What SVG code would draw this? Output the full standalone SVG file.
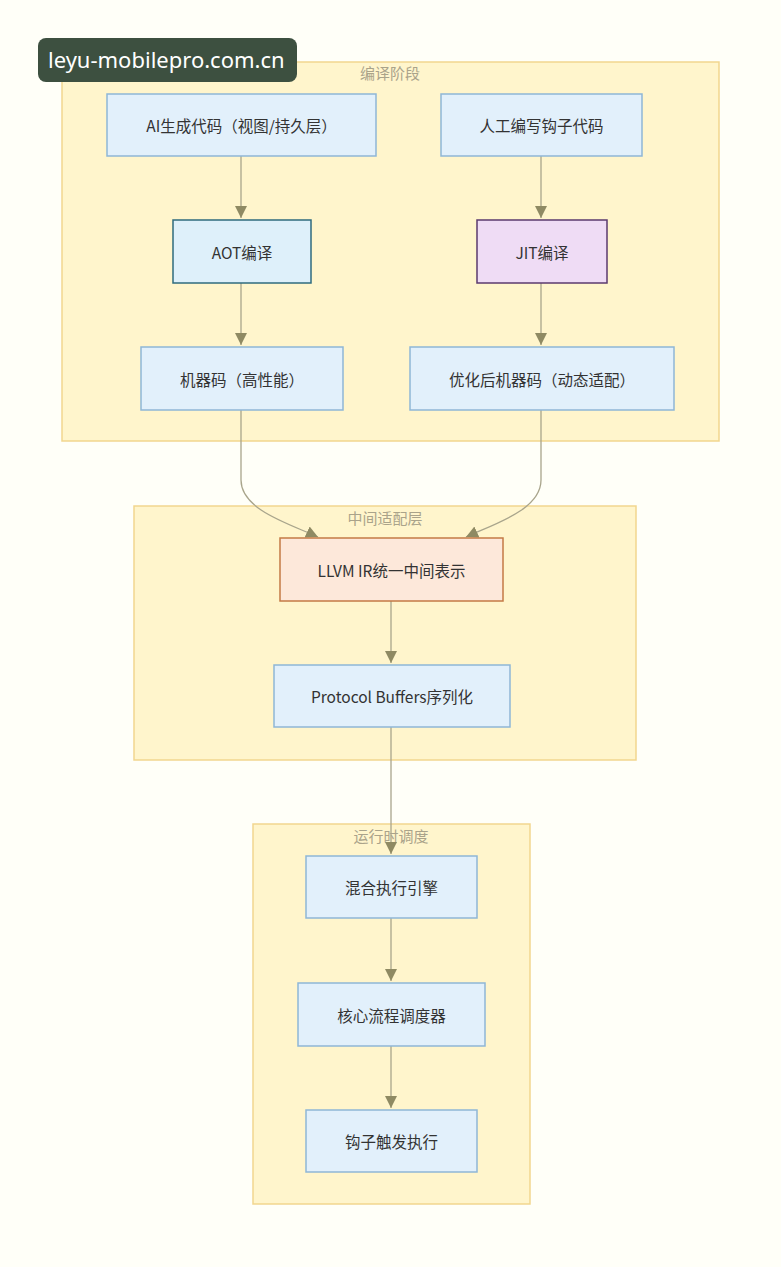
<svg xmlns="http://www.w3.org/2000/svg" width="781" height="1267" viewBox="0 0 781 1267">
<defs>
<marker id="arr" viewBox="0 0 10 10" refX="10" refY="5" markerWidth="12" markerHeight="12" markerUnits="userSpaceOnUse" orient="auto">
<path d="M0,0 L10,5 L0,10 z" fill="#8f8a63"/>
</marker>
</defs>
<style>
.bg{fill:#fffff8}
.cluster{fill:#fff5cc;stroke:#f2d68e;stroke-width:1.5}
.ctitle{font-family:"Noto Sans CJK SC","Noto Sans",sans-serif;font-size:15px;fill:#aaa38a;text-anchor:middle}
.node{fill:#e2f0fb;stroke:#8fb6d6;stroke-width:1.5}
.aot{fill:#def0fa;stroke:#2f6b7e;stroke-width:1.5}
.jit{fill:#efdcf5;stroke:#5b3a6e;stroke-width:1.5}
.llvm{fill:#fde8da;stroke:#c47a45;stroke-width:1.5}
.label{font-family:"Noto Sans CJK SC","Noto Sans",sans-serif;font-size:15.5px;fill:#333;text-anchor:middle;dominant-baseline:central}
.edge{fill:none;stroke:#a9a58c;stroke-width:1.3}
.wm{fill:#3d5040}
.wmt{font-family:"Noto Sans","DejaVu Sans",sans-serif;font-size:22px;fill:#ffffff}
</style>
<rect class="bg" x="0" y="0" width="781" height="1267"/>
<g id="cluster-compile">
<rect class="cluster" x="62" y="62" width="657" height="379"/>
<text class="ctitle" x="390" y="79">编译阶段</text>
</g>
<g id="cluster-middle">
<rect class="cluster" x="134" y="506" width="502" height="254"/>
<text class="ctitle" x="385" y="524">中间适配层</text>
</g>
<g id="cluster-runtime">
<rect class="cluster" x="253" y="824" width="277" height="380"/>
<text class="ctitle" x="391" y="842">运行时调度</text>
</g>
<g id="edges">
<path class="edge" d="M241,156 V218" marker-end="url(#arr)"/>
<path class="edge" d="M241,283 V345" marker-end="url(#arr)"/>
<path class="edge" d="M541,156 V218" marker-end="url(#arr)"/>
<path class="edge" d="M541,283 V345" marker-end="url(#arr)"/>
<path class="edge" d="M241,410 V480 C241,510 290,524 318,537" marker-end="url(#arr)"/>
<path class="edge" d="M541,410 V480 C541,510 494,524 466,537" marker-end="url(#arr)"/>
<path class="edge" d="M391,601 V663" marker-end="url(#arr)"/>
<path class="edge" d="M391,727 V854" marker-end="url(#arr)"/>
<path class="edge" d="M391,918 V981" marker-end="url(#arr)"/>
<path class="edge" d="M391,1046 V1108" marker-end="url(#arr)"/>
</g>
<g id="node-ai">
<rect class="node" x="107" y="94" width="269" height="62"/>
<text class="label" x="241.5" y="125">AI生成代码（视图/持久层）</text>
</g>
<g id="node-manual">
<rect class="node" x="441" y="94" width="201" height="62"/>
<text class="label" x="541.5" y="125">人工编写钩子代码</text>
</g>
<g id="node-aot">
<rect class="aot" x="173" y="220" width="138" height="63"/>
<text class="label" x="242" y="251.5">AOT编译</text>
</g>
<g id="node-jit">
<rect class="jit" x="477" y="220" width="130" height="63"/>
<text class="label" x="542" y="251.5">JIT编译</text>
</g>
<g id="node-machine">
<rect class="node" x="141" y="347" width="202" height="63"/>
<text class="label" x="242" y="378.5">机器码（高性能）</text>
</g>
<g id="node-optimized">
<rect class="node" x="410" y="347" width="264" height="63"/>
<text class="label" x="542" y="378.5">优化后机器码（动态适配）</text>
</g>
<g id="node-llvm">
<rect class="llvm" x="280" y="538" width="223" height="63"/>
<text class="label" x="391.5" y="569.5">LLVM IR统一中间表示</text>
</g>
<g id="node-protobuf">
<rect class="node" x="274" y="665" width="236" height="62"/>
<text class="label" x="392" y="696">Protocol Buffers序列化</text>
</g>
<g id="node-engine">
<rect class="node" x="306" y="856" width="171" height="62"/>
<text class="label" x="391.5" y="887">混合执行引擎</text>
</g>
<g id="node-scheduler">
<rect class="node" x="298" y="983" width="187" height="63"/>
<text class="label" x="391.5" y="1014.5">核心流程调度器</text>
</g>
<g id="node-hook">
<rect class="node" x="306" y="1110" width="171" height="62"/>
<text class="label" x="391.5" y="1141">钩子触发执行</text>
</g>
<g id="watermark">
<rect class="wm" x="38" y="38" width="259" height="44" rx="8"/>
<text class="wmt" x="48" y="68">leyu-mobilepro.com.cn</text>
</g>
</svg>
